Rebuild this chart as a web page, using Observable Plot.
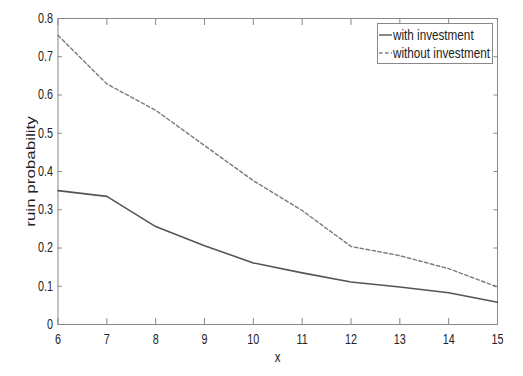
<!DOCTYPE html>
<html><head><meta charset="utf-8">
<script src="https://cdn.jsdelivr.net/npm/d3@7"></script>
<script src="https://cdn.jsdelivr.net/npm/@observablehq/plot@0.6"></script>
<style>
body{margin:0;background:#fff;}
#wrap{position:relative;width:523px;height:376px;font-family:"Liberation Sans",Arial,sans-serif;}
#legend{position:absolute;left:377px;top:23px;width:116px;height:41px;border:1px solid #888;background:#fff;font-size:15px;color:#222;box-sizing:border-box;}
#legend .row{position:absolute;left:0px;height:18px;line-height:18px;white-space:nowrap;}
#legend svg{position:absolute;left:0;top:4px;}
#legend span{position:absolute;left:15px;top:0;display:inline-block;transform:scaleX(0.78);transform-origin:0 50%;}
</style></head>
<body><div id="wrap"><div id="legend"></div></div>
<script>
const xs = [6,7,8,9,10,11,12,13,14,15];
const withInv = [0.350,0.335,0.256,0.206,0.161,0.135,0.111,0.098,0.083,0.058];
const withoutInv = [0.756,0.629,0.560,0.468,0.376,0.298,0.204,0.180,0.146,0.098];
const seriesNames = ["with investment","without investment"];
const xTicks = [6,7,8,9,10,11,12,13,14,15];
const yTicks = [0,0.1,0.2,0.3,0.4,0.5,0.6,0.7,0.8];

const data = [];
xs.forEach((x,i)=>{ data.push({x, y: withInv[i], s: seriesNames[0]}); data.push({x, y: withoutInv[i], s: seriesNames[1]}); });
const axisColor = "#888";
const fmt = d => d === 0 ? "0" : d3.format(".1f")(d);
const chart = Plot.plot({
  width: 523, height: 376,
  marginLeft: 57.5, marginRight: 26, marginTop: 18, marginBottom: 52,
  style: {fontFamily: '"Liberation Sans",Arial,sans-serif', color: "#222", background: "#fff"},
  x: {domain: [6,15]},
  y: {domain: [0,0.8]},
  marks: [
    Plot.frame({stroke: axisColor}),
    Plot.axisX({anchor: "bottom", ticks: xTicks, tickSize: -6, tickPadding: 16, stroke: axisColor, fill: "#222", tickFormat: d => String(d), label: null}),
    Plot.axisX({anchor: "top", ticks: xTicks, tickSize: -6, stroke: axisColor, tickFormat: () => "", label: null}),
    Plot.axisY({anchor: "left", ticks: yTicks, tickSize: -4.5, tickPadding: 9.5, stroke: axisColor, fill: "#222", tickFormat: fmt, label: null}),
    Plot.axisY({anchor: "right", ticks: yTicks, tickSize: -4.5, stroke: axisColor, tickFormat: () => "", label: null}),
    Plot.line(data.filter(d=>d.s===seriesNames[0]), {x: "x", y: "y", stroke: "#555", strokeWidth: 1.6}),
    Plot.line(data.filter(d=>d.s===seriesNames[1]), {x: "x", y: "y", stroke: "#7a7a7a", strokeWidth: 1.4, strokeDasharray: "3.5,2.5"}),
    Plot.text(["x"], {frameAnchor: "bottom", dy: 37, fill: "#222"}),
    Plot.text(["ruin probability"], {frameAnchor: "left", textAnchor: "middle", dx: -27, rotate: -90, fill: "#222"})
  ]
});
// the reference is horizontally condensed: squeeze glyphs around their anchors
chart.querySelectorAll("text").forEach(t => {
  const tr = t.getAttribute("transform") || "";
  if (!/translate/.test(tr)) return;
  const rotated = /rotate/.test(tr);
  const txt = t.textContent;
  t.style.fontSize = rotated ? "17px" : (txt === "x" ? "15px" : "14px");
  t.setAttribute("transform", tr + (rotated ? " scale(1,0.78)" : " scale(0.77,1)"));
});
document.getElementById("wrap").prepend(chart);
const lg = document.getElementById("legend");
const styles = [{stroke:"#555",dash:""},{stroke:"#7a7a7a",dash:"3.5,2.5"}];
seriesNames.forEach((n,i)=>{
  const row = document.createElement("div");
  row.className="row"; row.style.top = (2+i*18)+"px";
  row.innerHTML = `<svg width="15" height="10"><line x1="1" x2="14" y1="5" y2="5" stroke="${styles[i].stroke}" stroke-width="1.4" stroke-dasharray="${styles[i].dash}"/></svg><span>${n}</span>`;
  lg.appendChild(row);
});
</script></body></html>
